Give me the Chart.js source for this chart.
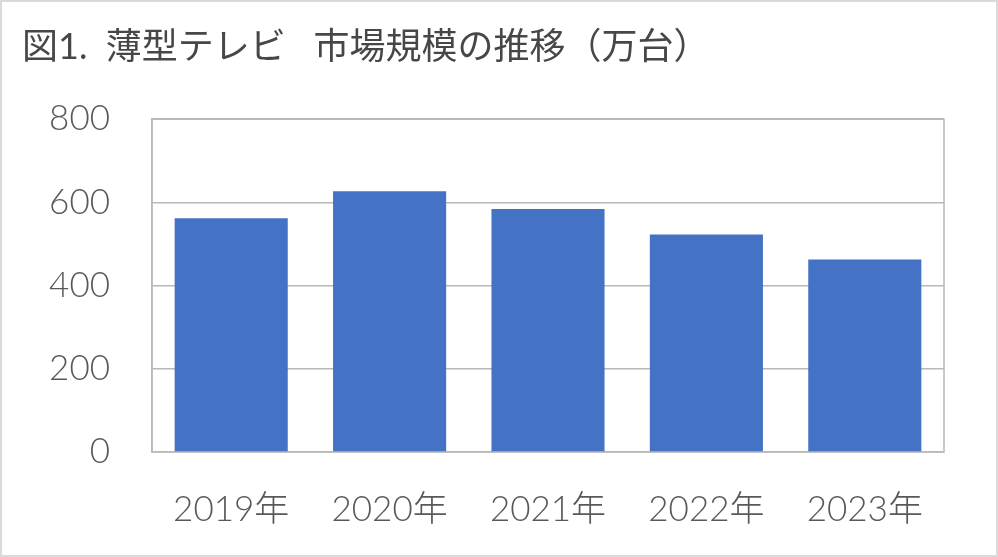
<!DOCTYPE html>
<html>
<head>
<meta charset="utf-8">
<script src="https://cdn.jsdelivr.net/npm/chart.js@4.4.0/dist/chart.umd.min.js"></script>
<style>
  body { margin: 0; background: #fff; }
  #wrap { width: 998px; height: 557px; box-sizing: border-box; border: 2px solid #dadada; }
  canvas { text-spacing-trim: space-all; font-kerning: none; }
</style>
</head>
<body>
<div id="wrap"><canvas id="myChart" width="994" height="553"></canvas></div>
<script>
// chart data
const years = ["2019年", "2020年", "2021年", "2022年", "2023年"];
const units = [562, 627, 584, 523, 463];   // 万台
const y_ticks = [0, 200, 400, 600, 800];
const title_text = "図1.  薄型テレビ   市場規模の推移（万台）";

const text_color = "#595959";
const line_color = "#b8b8b8";
const font_family = "Lato, 'Noto Sans CJK JP', sans-serif";

// draws the box round the plot area
const plotBorder = {
  id: 'plotBorder',
  beforeDraw(chart) {
    chart.ctx.fontKerning = 'none';
  },
  beforeDatasetsDraw(chart) {
    const a = chart.chartArea;
    const c = chart.ctx;
    c.save();
    c.strokeStyle = line_color;
    c.lineWidth = 1.5;
    c.strokeRect(a.left, a.top, a.right - a.left, a.bottom - a.top);
    c.restore();
  }
};

var ctx = document.getElementById('myChart');
var chart = new Chart(ctx, {
  type: 'bar',
  data: {
    labels: years,
    datasets: [{
      data: units,
      backgroundColor: '#4472C4',
      borderWidth: 0,
      barPercentage: 0.714,
      categoryPercentage: 1
    }]
  },
  options: {
    responsive: false,
    animation: false,
    layout: { padding: { left: 20, right: 52, top: 0, bottom: 25 } },
    plugins: {
      legend: { display: false },
      tooltip: { enabled: false },
      title: {
        display: true,
        text: title_text,
        align: 'start',
        color: '#474747',
        font: { family: font_family, size: 36, weight: 'normal' },
        padding: { top: 24, bottom: 50 }
      }
    },
    scales: {
      x: {
        afterFit(scale) { scale.height = 78; },
        grid: { display: false, drawTicks: false },
        border: { display: false },
        ticks: {
          color: text_color,
          padding: 37,
          maxRotation: 0,
          font: { family: font_family, size: 35, weight: 300 }
        }
      },
      y: {
        min: 0,
        max: 800,
        afterFit(scale) { scale.width = 130; },
        afterBuildTicks(scale) { scale.ticks = y_ticks.map(v => ({ value: v })); },
        grid: { color: line_color, lineWidth: 1.5, drawTicks: false },
        border: { display: true, color: line_color, width: 1.5 },
        ticks: {
          color: text_color,
          padding: 42,
          font: { family: font_family, size: 35, weight: 300 }
        }
      }
    }
  },
  plugins: [plotBorder]
});
</script>
</body>
</html>
